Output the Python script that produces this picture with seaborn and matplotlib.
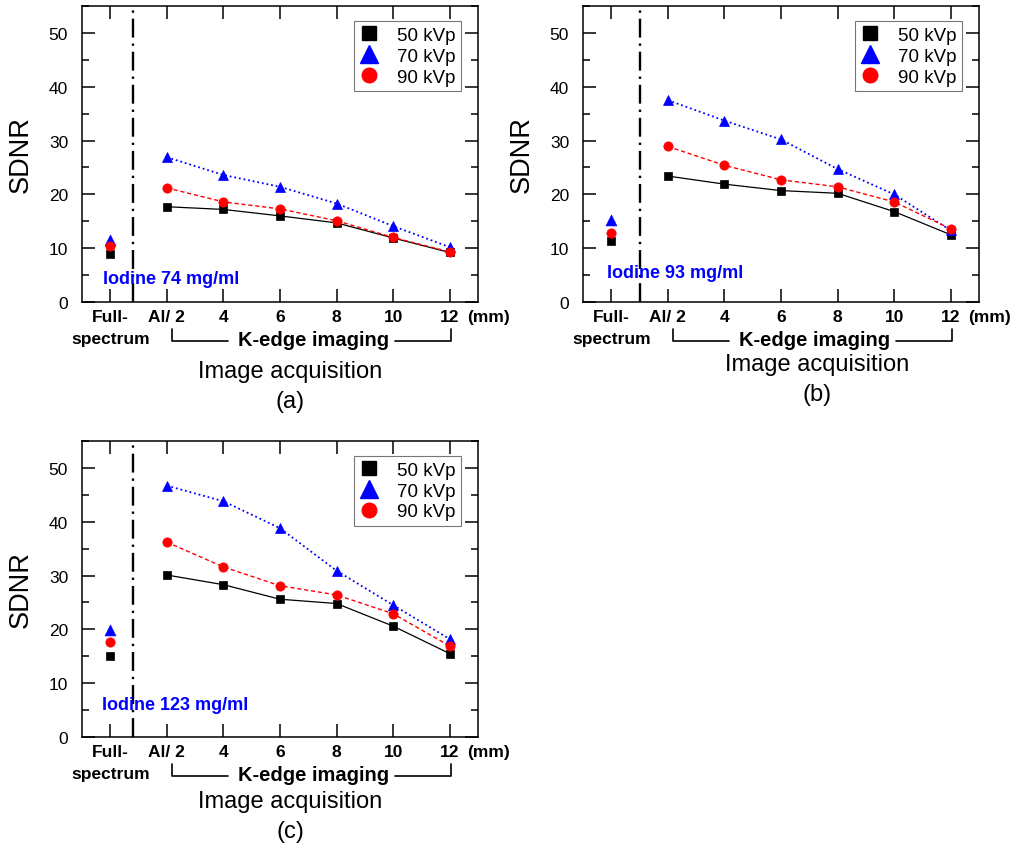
import matplotlib
matplotlib.use("Agg")
import matplotlib.pyplot as plt
import matplotlib.transforms as mtransforms
from matplotlib.lines import Line2D
from matplotlib.ticker import MultipleLocator
import seaborn as sns
import pandas as pd

# x axis: full-spectrum image, then K-edge images with Al filter thickness
acq_labels = ["Full-\nspectrum", "Al/ 2", "4", "6", "8", "10", "12"]
kvp_labels = ["50 kVp", "70 kVp", "90 kVp"]
iodine_labels = ["Iodine 74 mg/ml", "Iodine 93 mg/ml", "Iodine 123 mg/ml"]
panel_tags = ["(a)", "(b)", "(c)"]

# SDNR (first value = full spectrum)
sdnr_74_50 = [9.0, 17.7, 17.2, 16.0, 14.7, 11.9, 9.2]
sdnr_74_70 = [11.6, 26.9, 23.6, 21.4, 18.3, 14.1, 10.2]
sdnr_74_90 = [10.4, 21.2, 18.6, 17.3, 15.1, 12.0, 9.3]

sdnr_93_50 = [11.4, 23.4, 21.9, 20.7, 20.2, 16.8, 12.5]
sdnr_93_70 = [15.2, 37.5, 33.7, 30.2, 24.7, 20.0, 13.3]
sdnr_93_90 = [12.9, 28.9, 25.4, 22.7, 21.4, 18.6, 13.6]

sdnr_123_50 = [15.1, 30.1, 28.3, 25.6, 24.8, 20.6, 15.5]
sdnr_123_70 = [19.8, 46.7, 43.8, 38.8, 30.9, 24.5, 18.2]
sdnr_123_90 = [17.6, 36.2, 31.6, 28.1, 26.4, 22.9, 16.9]

panel_data = [
    [sdnr_74_50, sdnr_74_70, sdnr_74_90],
    [sdnr_93_50, sdnr_93_70, sdnr_93_90],
    [sdnr_123_50, sdnr_123_70, sdnr_123_90],
]

# marker / line style per kVp
styles = [
    dict(color="black", marker="s", ms=5.4, ls="-", lw=0.9, lms=9.5),
    dict(color="#0000ff", marker="^", ms=7.8, ls=(0, (1, 1.6)), lw=1.3, lms=13),
    dict(color="#ff0000", marker="o", ms=6.7, ls=(0, (3, 2)), lw=1.0, lms=10.5),
]

# layout (figure pixels of 1017x854)
W, H = 1017, 854
layout = [
    dict(rect=(82, 7, 478, 303), vline=0.4, iod=(-0.12, 4.3), cap=(290, 372, 402)),
    dict(rect=(583, 7, 979, 303), vline=0.5, iod=(-0.07, 5.4), cap=(817, 365, 395)),
    dict(rect=(82, 442, 478, 738), vline=0.4, iod=(-0.14, 6.1), cap=(290, 802, 832)),
]

sns.set_style("ticks")
plt.rcParams["font.family"] = ["Liberation Sans", "DejaVu Sans"]
plt.rcParams.update({
    "axes.linewidth": 1.1,
    "axes.edgecolor": "black",
    "text.color": "black",
    "axes.labelcolor": "black",
    "xtick.color": "black",
    "ytick.color": "black",
})

fig = plt.figure(figsize=(W / 100, H / 100), dpi=100)

for values, iod, tag, lay in zip(panel_data, iodine_labels, panel_tags, layout):
    x0, y0, x1, y1 = lay["rect"]
    ax = fig.add_axes([x0 / W, 1 - y1 / H, (x1 - x0) / W, (y1 - y0) / H])

    for vals, st in zip(values, styles):
        df = pd.DataFrame({"pos": list(range(1, len(vals))), "sdnr": vals[1:]})
        sns.lineplot(data=df, x="pos", y="sdnr", ax=ax, color=st["color"],
                     marker=st["marker"], markersize=st["ms"], linestyle=st["ls"],
                     linewidth=st["lw"], markeredgecolor=st["color"],
                     markeredgewidth=0.5)
        sns.scatterplot(x=[0], y=[vals[0]], ax=ax, color=st["color"],
                        marker=st["marker"], s=st["ms"] ** 2,
                        edgecolor=st["color"], linewidth=0.5, zorder=3)

    ax.axvline(lay["vline"], color="black", lw=1.7, ls=(0, (8, 2.5, 1, 2.5)))

    ax.set_xlim(-0.5, 6.5)
    ax.set_ylim(0, 55)
    ax.set_xticks(range(len(acq_labels)))
    xt = ax.set_xticklabels(acq_labels, fontweight="bold", fontsize=12.5)
    xt[0].set_linespacing(1.6)
    ax.yaxis.set_major_locator(MultipleLocator(10))
    ax.yaxis.set_minor_locator(MultipleLocator(5))
    ax.set_yticks(range(0, 51, 10))
    ax.tick_params(axis="both", which="both", direction="in", top=True, right=True,
                   width=1.1, color="black")
    ax.tick_params(axis="both", which="major", length=9.5)
    ax.tick_params(axis="y", which="minor", length=5)
    ax.tick_params(axis="y", labelsize=12.5, pad=10)
    ax.tick_params(axis="x", pad=5)
    ax.set_xlabel("")
    ax.set_ylabel("SDNR", fontsize=19.5, labelpad=11)

    trans = mtransforms.blended_transform_factory(ax.transData, ax.transAxes)
    ax.text(6.3, -0.025, "(mm)", transform=trans, ha="left", va="top",
            fontsize=12.5, fontweight="bold")

    # bracket for the K-edge group
    ax.plot([1.09, 1.09, 2.08], [-0.091, -0.132, -0.132], color="black", lw=1.2,
            transform=trans, clip_on=False)
    ax.plot([5.03, 6.02, 6.02], [-0.132, -0.132, -0.091], color="black", lw=1.2,
            transform=trans, clip_on=False)
    ax.text(3.6, -0.127, "K-edge imaging", transform=trans, ha="center", va="center",
            fontsize=14.5, fontweight="bold")

    ax.text(lay["iod"][0], lay["iod"][1], iod, color="#0000ff", fontsize=13,
            fontweight="bold", ha="left", va="center")

    handles = [Line2D([], [], color=st["color"], marker=st["marker"], ls="none",
                      ms=st["lms"], mec=st["color"]) for st in styles]
    leg = ax.legend(handles, kvp_labels, loc="upper right",
                    bbox_to_anchor=(1 - 17 / (x1 - x0), 1 - 15 / (y1 - y0)),
                    borderaxespad=0, fontsize=13.5, frameon=True, fancybox=False,
                    edgecolor="#555555", handlelength=1.0, handletextpad=1.0,
                    labelspacing=0.2, borderpad=0.3)
    leg.get_frame().set_linewidth(0.8)

    cx, cy1, cy2 = lay["cap"]
    fig.text(cx / W, 1 - cy1 / H, "Image acquisition", ha="center", va="center",
             fontsize=17)
    fig.text(cx / W, 1 - cy2 / H, tag, ha="center", va="center", fontsize=17)

fig.savefig("out.png", dpi=100)
